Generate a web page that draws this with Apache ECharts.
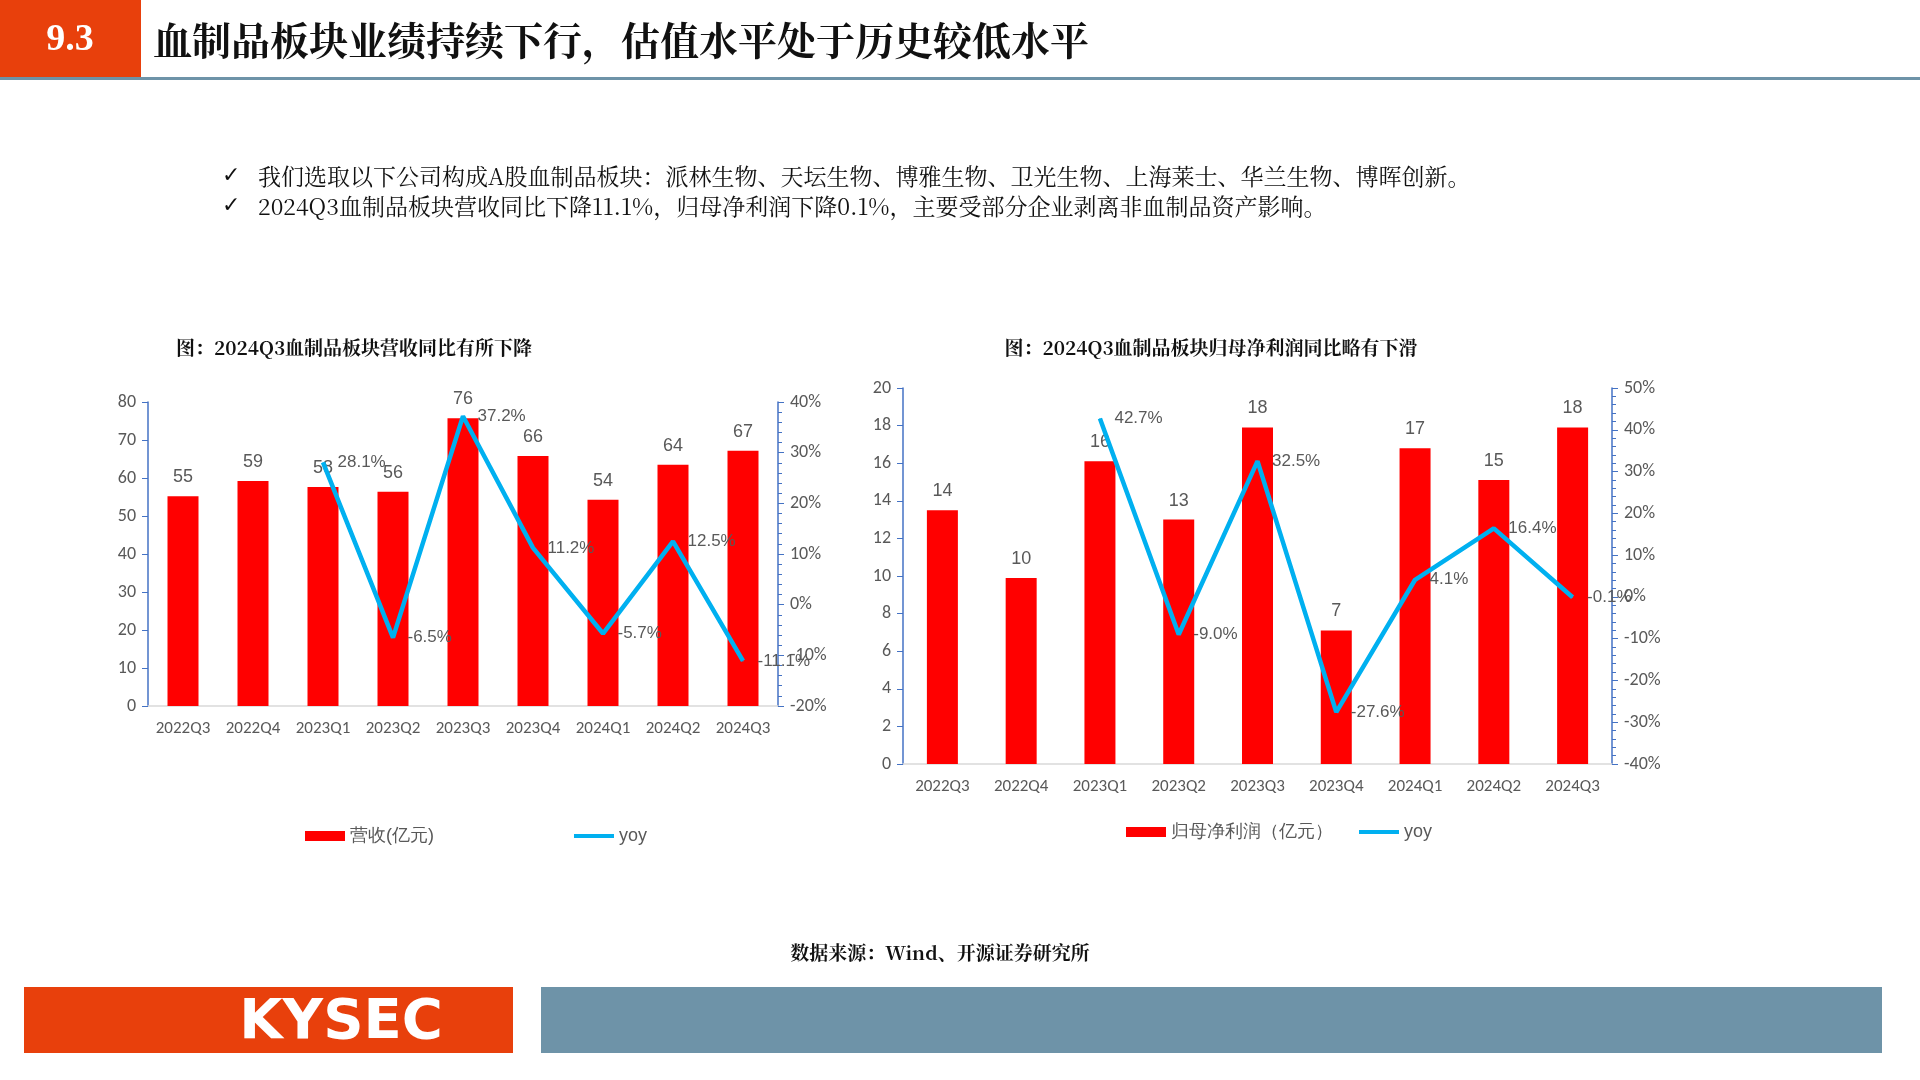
<!DOCTYPE html>
<html><head><meta charset="utf-8">
<script src="https://cdn.jsdelivr.net/npm/echarts@6/dist/echarts.min.js"></script>
<style>
html,body{margin:0;padding:0;width:1920px;height:1080px;background:#fff;overflow:hidden;font-family:"Noto Sans CJK SC",serif;}
#c{position:absolute;left:0;top:0;width:1920px;height:1080px;}
</style></head><body><div id="c"></div>
<script>
const quarters=['2022Q3','2022Q4','2023Q1','2023Q2','2023Q3','2023Q4','2024Q1','2024Q2','2024Q3'];
const revenue=[55.2,59.2,57.6,56.4,75.7,65.8,54.3,63.5,67.2];
const revenueYoy=[null,null,28.1,-6.5,37.2,11.2,-5.7,12.5,-11.1];
const profit=[13.5,9.9,16.1,13.0,17.9,7.1,16.8,15.1,17.9];
const profitYoy=[null,null,42.7,-9.0,32.5,-27.6,4.1,16.4,-0.1];
const bullets=['我们选取以下公司构成A股血制品板块：派林生物、天坛生物、博雅生物、卫光生物、上海莱士、华兰生物、博晖创新。','2024Q3血制品板块营收同比下降11.1%，归母净利润下降0.1%，主要受部分企业剥离非血制品资产影响。'];

const chart=echarts.init(document.getElementById('c'));
const gray='#595959', axisBlue='#4472C4', serif='"Noto Serif CJK SC","Noto Sans CJK SC",serif';
const lab={color:gray,fontSize:17,fontFamily:'Calibri,"Liberation Sans",sans-serif'};
function yAx(gi,min,max,interval,pct,pos,minor){
  return {type:'value',gridIndex:gi,min,max,interval,position:pos,
    axisLine:{show:true,lineStyle:{color:axisBlue,width:1.5}},axisTick:{show:true,length:6,inside:false,lineStyle:{color:axisBlue}},
    minorTick:{show:!!minor,splitNumber:5,length:4,lineStyle:{color:axisBlue}},
    splitLine:{show:false},axisLabel:Object.assign({},lab,{fontSize:18,margin:12,formatter:pct?'{value}%':'{value}'})};
}
function xAx(gi){return {type:'category',gridIndex:gi,data:quarters,axisLine:{lineStyle:{color:'#D9D9D9',width:1.5}},axisTick:{show:false},axisLabel:Object.assign({},lab,{margin:14,interval:0})};}
function bar(xi,yi,data,name){return {name,type:'bar',xAxisIndex:xi,yAxisIndex:yi,data,barWidth:31,itemStyle:{color:'#FF0000'},
  label:{show:true,position:'top',distance:10,color:gray,fontSize:18,formatter:p=>Math.round(p.value)}};}
function line(xi,yi,data,name){return {name,type:'line',xAxisIndex:xi,yAxisIndex:yi,data,symbol:'circle',symbolSize:1,showSymbol:true,connectNulls:false,z:5,
  lineStyle:{color:'#00B0F0',width:4.5},itemStyle:{color:'#00B0F0'},
  label:{show:true,position:'right',distance:14,color:gray,fontSize:17,formatter:p=>p.value==null?'':p.value.toFixed(1)+'%'}};}

const g=[];
g.push({type:'rect',shape:{x:0,y:0,width:141,height:80},style:{fill:'#E8400C'}});
g.push({type:'text',x:70,y:40,style:{text:'9.3',fill:'#fff',font:'bold 38px "Liberation Serif",serif',align:'center',verticalAlign:'middle'}});
g.push({type:'text',x:153,y:40,style:{text:'血制品板块业绩持续下行，估值水平处于历史较低水平',fill:'#111',font:'bold 39px '+serif,verticalAlign:'middle'}});
g.push({type:'rect',shape:{x:0,y:77,width:1920,height:3},style:{fill:'#6E93A8'}});
bullets.forEach((t,i)=>{
  g.push({type:'text',x:222,y:176+i*30,style:{text:'✓',fill:'#111',font:'22px "DejaVu Sans"',verticalAlign:'middle'}});
  g.push({type:'text',x:258,y:176+i*30,style:{text:t,fill:'#111',font:'23px '+serif,verticalAlign:'middle'}});
});
g.push({type:'text',x:354,y:348,style:{text:'图：2024Q3血制品板块营收同比有所下降',fill:'#111',font:'bold 19px '+serif,align:'center',verticalAlign:'middle'}});
g.push({type:'text',x:1211,y:348,style:{text:'图：2024Q3血制品板块归母净利润同比略有下滑',fill:'#111',font:'bold 19px '+serif,align:'center',verticalAlign:'middle'}});
g.push({type:'text',x:940,y:953,style:{text:'数据来源：Wind、开源证券研究所',fill:'#111',font:'bold 19px '+serif,align:'center',verticalAlign:'middle'}});
g.push({type:'rect',shape:{x:24,y:987,width:489,height:66},style:{fill:'#E8400C'}});
g.push({type:'text',x:341,y:1023,style:{text:'KYSEC',fill:'#fff',font:'bold 56px "DejaVu Sans",sans-serif',align:'center',verticalAlign:'middle'}});
g.push({type:'rect',shape:{x:541,y:987,width:1341,height:66},style:{fill:'#6E93A8'}});

const lineIcon='path://M0,0 L10,0 L10,1 L0,1 Z';
chart.setOption({
  animation:false,
  graphic:g,
  grid:[{left:148,top:402,width:630,height:304},{left:903,top:388,width:709,height:376}],
  legend:[
    {data:[{name:'营收(亿元)',icon:'rect'},{name:'yoy',icon:lineIcon}],left:300,top:822,itemGap:140,itemWidth:40,itemHeight:10,textStyle:{color:gray,fontSize:18}},
    {data:[{name:'归母净利润（亿元）',icon:'rect'},{name:'yoy ',icon:lineIcon}],left:1121,top:818,itemGap:26,itemWidth:40,itemHeight:10,textStyle:{color:gray,fontSize:18}}
  ],
  xAxis:[xAx(0),xAx(1)],
  yAxis:[yAx(0,0,80,10,false,'left'),yAx(0,-20,40,10,true,'right',true),yAx(1,0,20,2,false,'left'),yAx(1,-40,50,10,true,'right',true)],
  series:[
    bar(0,0,revenue,'营收(亿元)'),line(0,1,revenueYoy,'yoy'),
    bar(1,2,profit,'归母净利润（亿元）'),line(1,3,profitYoy,'yoy ')
  ]
});
</script></body></html>
